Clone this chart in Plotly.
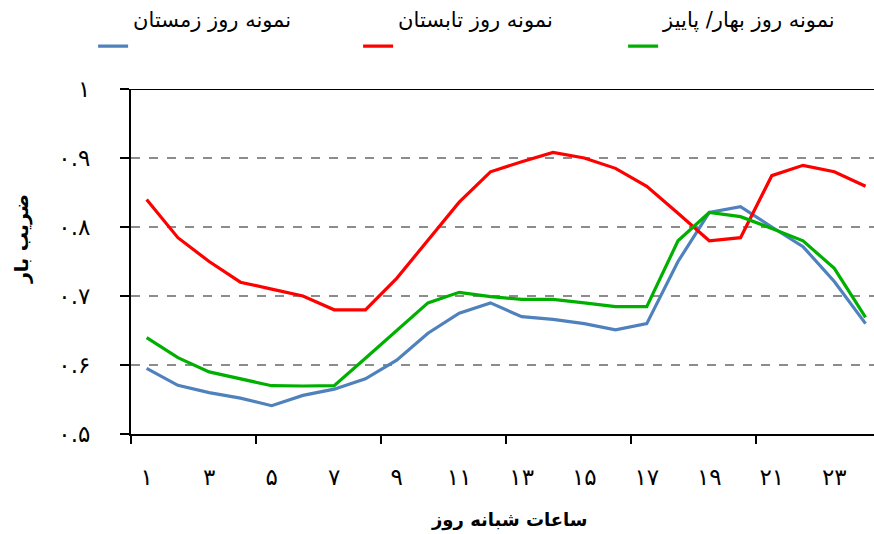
import plotly.graph_objects as go

hours = list(range(1, 25))
winter = [0.595, 0.5705, 0.560, 0.552, 0.541, 0.556, 0.565, 0.580, 0.607, 0.646, 0.675, 0.690,
          0.670, 0.666, 0.660, 0.651, 0.660, 0.750, 0.821, 0.8295, 0.800, 0.7715, 0.721, 0.660]
summer = [0.840, 0.7845, 0.750, 0.720, 0.710, 0.700, 0.680, 0.680, 0.7256, 0.781, 0.836, 0.880,
          0.8947, 0.908, 0.900, 0.885, 0.859, 0.820, 0.780, 0.7845, 0.8744, 0.8894, 0.880, 0.859]
spring_fall = [0.6396, 0.6106, 0.590, 0.580, 0.570, 0.5696, 0.570, 0.6097, 0.6498, 0.690, 0.7053, 0.699,
               0.6952, 0.6952, 0.690, 0.6845, 0.6845, 0.780, 0.821, 0.815, 0.798, 0.780, 0.740, 0.669]

series_names = ["نمونه روز زمستان", "نمونه روز تابستان", "نمونه روز بهار/ پاییز"]
series_colors = ["#4F81BD", "#FF0000", "#00B000"]

x_tickvals = [1, 3, 5, 7, 9, 11, 13, 15, 17, 19, 21, 23]
x_ticktext = ["۱", "۳", "۵", "۷", "۹", "۱۱", "۱۳", "۱۵", "۱۷", "۱۹", "۲۱", "۲۳"]
y_tickvals = [0.5, 0.6, 0.7, 0.8, 0.9, 1.0]
y_ticktext = ["۰.۵", "۰.۶", "۰.۷", "۰.۸", "۰.۹", "۱"]

x_title = "ساعات شبانه روز"
y_title = "ضریب بار"

FONT = "DejaVu Sans"

fig = go.Figure()
for name, vals, col in zip(series_names, [winter, summer, spring_fall], series_colors):
    fig.add_trace(go.Scatter(x=hours, y=vals, mode="lines", name=name + "<br> ",
                             line=dict(color=col, width=3.2)))

fig.update_layout(
    width=874, height=534,
    margin=dict(l=131, r=0, t=89, b=100, autoexpand=False),
    paper_bgcolor="white", plot_bgcolor="white",
    font=dict(family=FONT, color="black"),
    showlegend=True,
    legend=dict(orientation="h", x=-0.051, xanchor="left", y=1.262, yanchor="top",
                font=dict(size=21, family=FONT), valign="bottom",
                entrywidth=220, entrywidthmode="pixels", traceorder="normal",
                bgcolor="rgba(0,0,0,0)"),
    annotations=[
        dict(text="<b>" + x_title + "</b>", xref="paper", yref="paper", x=0.51, y=-0.249,
             xanchor="center", yanchor="middle", showarrow=False,
             font=dict(size=18, family=FONT)),
        dict(text="<b>" + y_title + "</b>", xref="paper", yref="paper", x=-0.148, y=0.565,
             xanchor="center", yanchor="middle", showarrow=False, textangle=-90,
             font=dict(size=19, family=FONT)),
    ],
)

fig.update_xaxes(
    range=[0.5, 24.27], tickvals=x_tickvals, ticktext=x_ticktext, ticks="",
    tickfont=dict(size=23, family=FONT), ticklabelstandoff=21,
    showgrid=False, zeroline=False, automargin=False,
    showline=True, linecolor="black", linewidth=2,
    minor=dict(tick0=0.5, dtick=4, ticks="outside", ticklen=8, tickcolor="black",
               tickwidth=2, showgrid=False),
)
fig.update_yaxes(
    range=[0.5, 1.0], tickvals=y_tickvals, ticktext=y_ticktext,
    ticks="outside", ticklen=9, tickcolor="black", tickwidth=1.5,
    tickfont=dict(size=23, family=FONT), ticklabelstandoff=25,
    showgrid=True, gridcolor="#8C8C8C", griddash="dash", gridwidth=1.5,
    zeroline=False, showline=True, linecolor="black", linewidth=2, automargin=False,
)

fig.add_shape(type="line", xref="paper", yref="y", x0=0, x1=1, y0=1.0, y1=1.0,
              line=dict(color="black", width=2), layer="above")

fig.write_html("out.html", config={"displayModeBar": False},
               post_script="document.body.style.margin='0';")
